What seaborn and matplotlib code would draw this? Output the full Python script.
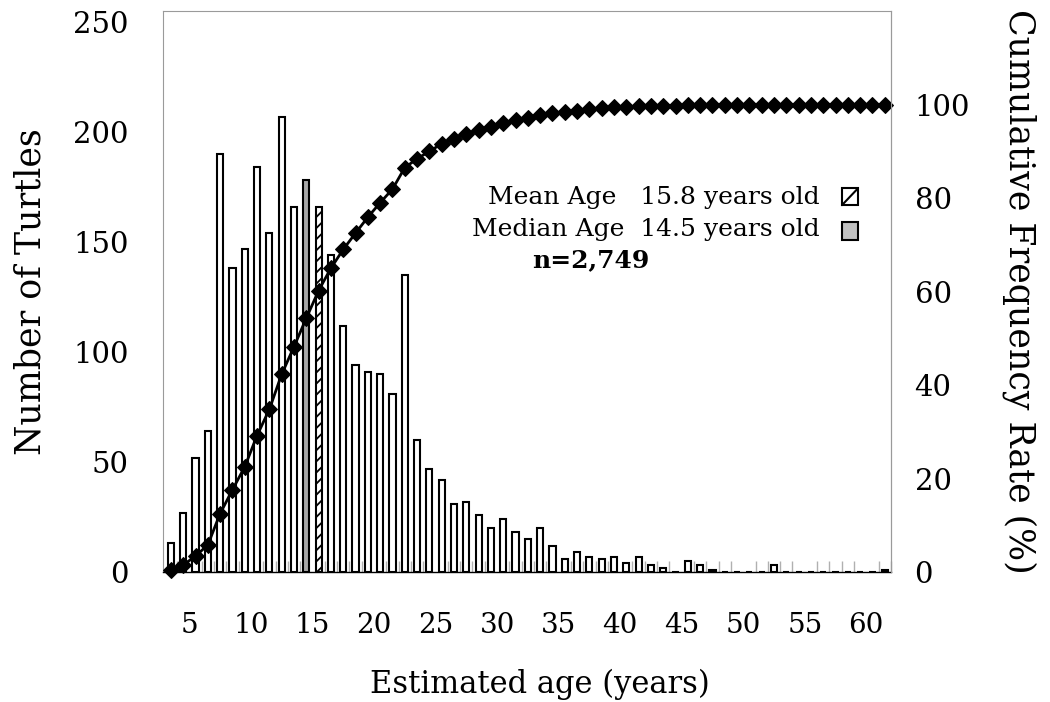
import matplotlib
matplotlib.use("Agg")
import numpy as np
import pandas as pd
import seaborn as sns
from matplotlib import pyplot as plt
from matplotlib.patches import Rectangle
from matplotlib.lines import Line2D

# age classes (years) and number of turtles per class
ages = list(range(3, 62))
turtles = [13, 27, 52, 64, 190, 138, 147, 184, 154, 207,
           166, 178, 166, 144, 112, 94, 91, 90, 81, 135,
           60, 47, 42, 31, 32, 26, 20, 24, 18, 15,
           20, 12, 6, 9, 7, 6, 7, 4, 7, 3,
           2, 0, 5, 3, 1, 0, 0, 0, 0, 3,
           0, 0, 0, 0, 0, 0, 0, 0, 1]
# cumulative frequency rate (%) per class
cumulative_pct = [0.5, 1.5, 3.4, 5.8, 12.5, 17.6, 22.5, 29.2, 34.8, 42.3,
                  48.2, 54.3, 60.2, 65.0, 69.0, 72.5, 75.9, 79.0, 81.9, 86.5,
                  88.4, 90.0, 91.6, 92.7, 93.8, 94.6, 95.3, 96.1, 96.7, 97.2,
                  97.8, 98.2, 98.4, 98.7, 99.0, 99.2, 99.4, 99.5, 99.7, 99.8,
                  99.8, 99.8, 99.9, 99.9, 100.0, 100.0, 100.0, 100.0, 100.0, 100.0,
                  100.0, 100.0, 100.0, 100.0, 100.0, 100.0, 100.0, 100.0, 100.0]
x_ticks = [5, 10, 15, 20, 25, 30, 35, 40, 45, 50, 55, 60]
left_ticks = [0, 50, 100, 150, 200, 250]
right_ticks = [0, 20, 40, 60, 80, 100]
median_class = 14
mean_class = 15

sns.set_theme(style='white')
plt.rcParams['font.family'] = ['DejaVu Serif']
plt.rcParams['text.color'] = 'black'
plt.rcParams['axes.labelcolor'] = 'black'
plt.rcParams['xtick.color'] = 'black'
plt.rcParams['ytick.color'] = 'black'
plt.rcParams['hatch.linewidth'] = 1.3

df = pd.DataFrame({'age': ages, 'turtles': turtles, 'cum': cumulative_pct})

fig = plt.figure(figsize=(10.5, 7.02), dpi=100)
ax = fig.add_axes([0.1555, 0.1852, 0.693, 0.799])

sns.barplot(data=df, x='age', y='turtles', native_scale=True, width=0.5,
            color='white', saturation=1, edgecolor='black', linewidth=1.5,
            errorbar=None, ax=ax)
bars = ax.patches
bars[ages.index(median_class)].set_facecolor('#a8a8a8')
bars[ages.index(mean_class)].set_hatch('///')

ax.set_xlim(2.38, 61.4)
ax.set_ylim(0, 255)
ax.set_yticks(left_ticks)
ax.set_xticks([t - 0.5 for t in x_ticks])
ax.set_xticklabels([str(t) for t in x_ticks])
ax.set_xticks([a + 0.5 for a in ages], minor=True)
ax.tick_params(axis='x', which='major', length=0, pad=29, labelsize=20)
ax.tick_params(axis='x', which='minor', direction='in', length=8, width=1,
               color='#b0b0b0', bottom=True)
ax.tick_params(axis='y', length=0, pad=25, labelsize=21)
ax.set_xlabel('Estimated age (years)', fontsize=22)
ax.set_ylabel('Number of Turtles', fontsize=25)
ax.xaxis.set_label_coords(0.517, -0.2)
ax.yaxis.set_label_coords(-0.183, 0.5)
ax.yaxis.label.set_verticalalignment('center')
ax.xaxis.label.set_verticalalignment('center')

for side in ['left', 'top', 'right']:
    ax.spines[side].set_color('#9a9a9a')
    ax.spines[side].set_linewidth(0.8)
ax.spines['bottom'].set_color('black')
ax.spines['bottom'].set_linewidth(1.0)

ax2 = ax.twinx()
sns.lineplot(data=df, x='age', y='cum', ax=ax2, color='black', linewidth=2,
             marker='D', markersize=8, markeredgecolor='black', clip_on=False)
ax2.set_ylim(0, 120)
ax2.set_yticks(right_ticks)
ax2.tick_params(axis='y', length=0, pad=17, labelsize=21)
ax2.set_ylabel('Cumulative Frequency Rate (%)', fontsize=25, rotation=270)
ax2.yaxis.set_label_coords(1.177, 0.5)
ax2.yaxis.label.set_verticalalignment('center')
for side in ['left', 'top', 'bottom']:
    ax2.spines[side].set_visible(False)
ax2.spines['right'].set_color('#9a9a9a')
ax2.spines['right'].set_linewidth(0.8)

# legend: text on the left, swatch on the right
ax.text(0.902, 0.668, 'Mean Age   15.8 years old', transform=ax.transAxes,
        ha='right', va='center', fontsize=18)
ax.text(0.902, 0.610, 'Median Age  14.5 years old', transform=ax.transAxes,
        ha='right', va='center', fontsize=18)
ax.text(0.588, 0.556, 'n=2,749', transform=ax.transAxes,
        ha='center', va='center', fontsize=18, fontweight='bold')
ax.add_patch(Rectangle((0.9327, 0.654), 0.022, 0.030, transform=ax.transAxes,
                       facecolor='white', edgecolor='black', linewidth=1.5,
                       clip_on=False))
ax.add_line(Line2D([0.9327, 0.9547], [0.654, 0.684], transform=ax.transAxes,
                   color='black', linewidth=1.5, clip_on=False))
ax.add_patch(Rectangle((0.9327, 0.592), 0.022, 0.032, transform=ax.transAxes,
                       facecolor='#c0c0c0', edgecolor='black', linewidth=1.5,
                       clip_on=False))

fig.savefig('out.png', dpi=100)
